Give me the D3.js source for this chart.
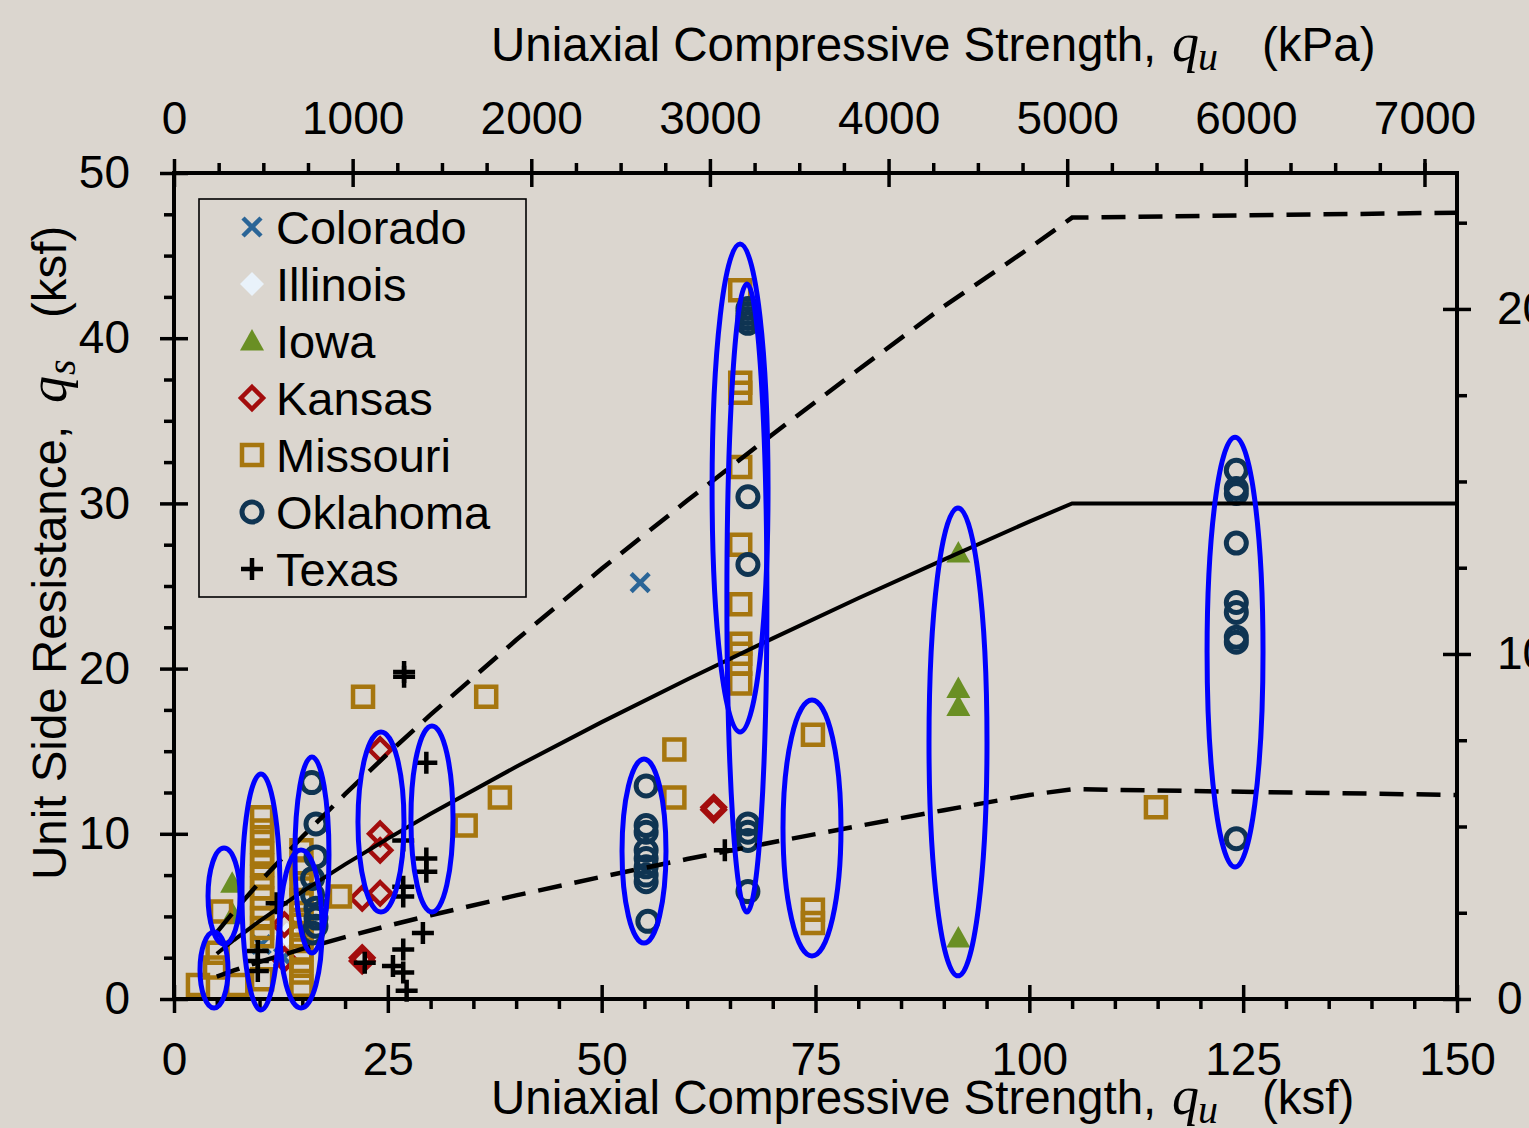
<!DOCTYPE html>
<html>
<head>
<meta charset="utf-8">
<script src="https://cdn.jsdelivr.net/npm/d3@7"></script>
<style>
  html, body { margin: 0; padding: 0; background: #dbd6cf; }
  svg { display: block; }
</style>
</head>
<body>
<svg id="chart" width="1529" height="1128"></svg>
<script>
// ---- Measured side resistance vs. uniaxial compressive strength (ksf) ----
const colorado = [[54.5, 25.2], [10.2, 3.3], [12.8, 2.5]];
const illinois = [[13.2, 3.9]];
const iowa = [[91.7, 27.0], [91.7, 18.8], [91.7, 17.7], [91.7, 3.7], [6.8, 7.0], [6.9, 5.1]];
const kansas = [[24.1, 15.1], [24.1, 10.0], [24.1, 9.0], [24.1, 6.4], [22.0, 6.1], [22.0, 2.3], [22.0, 2.5],
                [63.1, 11.45], [63.1, 11.6], [12.9, 4.5], [12.9, 2.4]];
const missouri = [
  [66.2, 42.9], [66.2, 37.3], [66.2, 36.7], [66.2, 32.2], [66.2, 27.5], [66.2, 23.9],
  [66.2, 21.5], [66.2, 20.9], [66.2, 20.3], [66.2, 19.1],
  [22.1, 18.3], [36.5, 18.3], [58.5, 15.1], [58.5, 12.2], [38.1, 12.2], [34.1, 10.5],
  [74.7, 16.0], [74.7, 5.4], [74.7, 4.6], [114.8, 11.6], [19.4, 6.2],
  [10.3, 11.0], [10.3, 10.2], [10.3, 9.5], [10.3, 8.8], [10.3, 8.1], [10.3, 7.4], [10.3, 6.7],
  [10.3, 6.1], [10.3, 5.5], [10.3, 4.9], [10.3, 4.3], [10.3, 3.8], [10.3, 1.2],
  [14.9, 9.0], [14.9, 7.9], [14.9, 7.0], [14.9, 6.0], [14.9, 5.2], [14.9, 4.5], [14.9, 3.8],
  [14.9, 3.0], [14.9, 2.3], [14.9, 1.6], [14.9, 0.8],
  [2.8, 0.85], [4.8, 1.9], [5.1, 2.8], [7.4, 0.85], [5.5, 5.3]
];
const oklahoma = [
  [67.1, 40.9], [67.1, 41.2], [67.1, 41.5], [67.1, 41.8], [67.1, 30.4], [67.1, 26.3],
  [67.1, 10.6], [67.1, 10.1], [67.1, 9.6], [67.1, 6.5],
  [55.2, 12.9], [55.2, 10.5], [55.2, 10.1], [55.2, 9.0], [55.2, 8.5], [55.2, 8.0], [55.2, 7.5],
  [55.2, 7.1], [55.4, 4.7],
  [124.2, 32.0], [124.2, 30.9], [124.2, 30.6], [124.2, 27.6], [124.2, 24.0], [124.2, 23.4],
  [124.2, 21.9], [124.2, 21.6], [124.2, 9.7],
  [16.1, 13.1], [16.6, 10.6], [16.6, 8.6], [16.2, 7.3], [16.2, 6.3], [16.6, 5.5], [16.6, 4.9],
  [16.6, 4.4], [16.2, 4.0]
];
const texas = [
  [26.9, 19.5], [26.9, 19.8], [29.5, 14.3], [29.5, 8.5], [29.5, 7.7], [26.8, 9.6], [26.8, 6.8],
  [26.8, 6.2], [29.1, 4.0], [26.8, 3.0], [25.6, 2.0], [26.8, 1.6], [27.2, 0.5], [22.3, 2.2],
  [12.0, 5.8], [9.8, 2.9], [9.8, 2.3], [9.8, 1.7], [64.4, 9.0]
];

// ---- Design trend lines (ksf) ----
const trendX     = [5, 7, 10, 15, 20, 25, 30, 40, 50, 60, 70, 80, 90, 100, 105, 150];
const trendUpper = [4.03, 5.30, 7.07, 9.82, 12.40, 14.85, 17.21, 21.73, 26.04, 30.17, 34.19, 38.09, 41.92, 45.45, 47.3, 47.6];
const trendMean  = [2.74, 3.57, 4.72, 6.50, 8.15, 9.71, 11.21, 14.06, 16.76, 19.34, 21.83, 24.26, 26.60, 28.90, 30.0, 30.0];
const trendLower = [1.35, 1.73, 2.25, 3.03, 3.75, 4.43, 5.07, 6.27, 7.40, 8.47, 9.49, 10.47, 11.43, 12.35, 12.7, 12.35];

// ---- Highlighted site groups: centre (ksf) and half-widths (ksf) ----
const groupCx = [5.85, 4.68, 10.17, 14.85, 16.13, 24.20, 30.16, 54.95, 66.18, 66.98, 74.59, 91.66, 124.05];
const groupCy = [6.23, 1.76, 6.48, 4.24, 8.72, 10.71, 10.90, 8.96, 30.93, 24.27, 10.35, 15.56, 21.00];
const groupRx = [1.87, 1.64, 2.22, 2.46, 1.99, 2.69, 2.46, 2.57, 3.27, 2.34, 3.39, 3.39, 3.27];
const groupRy = [2.91, 2.30, 7.14, 4.78, 5.93, 5.45, 5.63, 5.57, 14.77, 19.01, 7.75, 14.16, 13.01];

// ---- Axis ticks ----
const bottomTicks = [0, 25, 50, 75, 100, 125, 150];
const bottomMinor = [5, 10, 15, 20, 30, 35, 40, 45, 55, 60, 65, 70, 80, 85, 90, 95, 105, 110, 115, 120, 130, 135, 140, 145];
const leftTicks = [0, 10, 20, 30, 40, 50];
const leftMinor = [2.5, 5, 7.5, 12.5, 15, 17.5, 22.5, 25, 27.5, 32.5, 35, 37.5, 42.5, 45, 47.5];
const topTicks = [0, 1000, 2000, 3000, 4000, 5000, 6000, 7000];
const topMinor = [250, 500, 750, 1250, 1500, 1750, 2250, 2500, 2750, 3250, 3500, 3750, 4250, 4500, 4750,
                  5250, 5500, 5750, 6250, 6500, 6750, 7000];
const rightTicks = [0, 1000, 2000];
const rightMinor = [250, 500, 750, 1250, 1500, 1750, 2250];

const legendNames = ["Colorado", "Illinois", "Iowa", "Kansas", "Missouri", "Oklahoma", "Texas"];

const KPA_PER_KSF = 47.880259;
const FONT = "'Liberation Sans', Arial, sans-serif";
const MATH = "'Liberation Serif', 'Times New Roman', serif";

const svg = d3.select("#chart");
svg.append("rect").attr("width", 1529).attr("height", 1128).attr("fill", "#dbd6cf");

const x = d3.scaleLinear().domain([0, 150]).range([174, 1457]);
const y = d3.scaleLinear().domain([0, 50]).range([999, 173]);
const xk = d3.scaleLinear().domain([0, 150 * KPA_PER_KSF]).range([174, 1457]);
const yk = d3.scaleLinear().domain([0, 50 * KPA_PER_KSF]).range([999, 173]);

// ---- marker styles per state ----
const styles = {
  Colorado: { path: "M-9,-9L9,9M-9,9L9,-9", fill: "none", stroke: "#2a6597", sw: 4.5 },
  Illinois: { path: "M0,-12L12,0L0,12L-12,0Z", fill: "#e9f2fa", stroke: "none", sw: 0 },
  Iowa:     { path: "M0,-12L12,9.5L-12,9.5Z", fill: "#6a8f24", stroke: "none", sw: 0 },
  Kansas:   { path: "M0,-11L11,0L0,11L-11,0Z", fill: "none", stroke: "#a30d0d", sw: 4.5 },
  Missouri: { path: "M-10,-10H10V10H-10Z", fill: "none", stroke: "#a6760f", sw: 4.5 },
  Oklahoma: { path: "M10,0A10,10 0 1,1 -10,0A10,10 0 1,1 10,0Z", fill: "none", stroke: "#0f3452", sw: 5 },
  Texas:    { path: "M-11,0H11M0,-11V11", fill: "none", stroke: "#000000", sw: 4.5 }
};
const seriesData = { Colorado: colorado, Illinois: illinois, Iowa: iowa, Kansas: kansas,
                     Missouri: missouri, Oklahoma: oklahoma, Texas: texas };

function drawMarks(g, name, pts) {
  const s = styles[name];
  g.selectAll(null).data(pts).enter().append("path")
    .attr("transform", d => `translate(${x(d[0])},${y(d[1])})`)
    .attr("d", s.path)
    .attr("fill", s.fill)
    .attr("stroke", s.stroke)
    .attr("stroke-width", s.sw)
    .attr("stroke-linejoin", "miter");
}

const marks = svg.append("g");
legendNames.forEach(n => drawMarks(marks.append("g"), n, seriesData[n]));

// ---- trend lines ----
const lineGen = d3.line().x(d => x(d[0])).y(d => y(d[1]));
const lines = svg.append("g").attr("fill", "none").attr("stroke", "#000");
lines.append("path").datum(d3.zip(trendX, trendUpper)).attr("d", lineGen)
  .attr("stroke-width", 4.5).attr("stroke-dasharray", "24,13");
lines.append("path").datum(d3.zip(trendX, trendMean)).attr("d", lineGen)
  .attr("stroke-width", 4);
lines.append("path").datum(d3.zip(trendX, trendLower)).attr("d", lineGen)
  .attr("stroke-width", 4.5).attr("stroke-dasharray", "24,13");

// ---- axes ----
function tidy(g) {
  g.select(".domain").remove();
  g.selectAll("line").attr("stroke", "#000").attr("stroke-width", 3.5);
  g.selectAll("text").attr("font-size", 46).attr("font-family", FONT).attr("fill", "#000");
}
const axes = svg.append("g");
// bottom (ksf)
axes.append("g").attr("transform", "translate(0,999)")
  .call(d3.axisBottom(x).tickValues(bottomTicks).tickSize(14).tickPadding(29).tickFormat(d3.format("d"))).call(tidy);
axes.append("g").attr("transform", "translate(0,999)")
  .call(d3.axisBottom(x).tickValues(bottomTicks).tickSize(-14).tickFormat("")).call(tidy);
axes.append("g").attr("transform", "translate(0,999)")
  .call(d3.axisBottom(x).tickValues(bottomMinor).tickSize(10).tickFormat("")).call(tidy);
// left (ksf)
axes.append("g").attr("transform", "translate(174,0)")
  .call(d3.axisLeft(y).tickValues(leftTicks).tickSize(14).tickPadding(30).tickFormat(d3.format("d"))).call(tidy);
axes.append("g").attr("transform", "translate(174,0)")
  .call(d3.axisLeft(y).tickValues(leftTicks).tickSize(-14).tickFormat("")).call(tidy);
axes.append("g").attr("transform", "translate(174,0)")
  .call(d3.axisLeft(y).tickValues(leftMinor).tickSize(10).tickFormat("")).call(tidy);
// top (kPa)
axes.append("g").attr("transform", "translate(0,173)")
  .call(d3.axisTop(xk).tickValues(topTicks).tickSize(14).tickPadding(25).tickFormat(d3.format("d"))).call(tidy);
axes.append("g").attr("transform", "translate(0,173)")
  .call(d3.axisTop(xk).tickValues(topTicks).tickSize(-14).tickFormat("")).call(tidy);
axes.append("g").attr("transform", "translate(0,173)")
  .call(d3.axisTop(xk).tickValues(topMinor).tickSize(10).tickFormat("")).call(tidy);
// right (kPa)
axes.append("g").attr("transform", "translate(1457,0)")
  .call(d3.axisRight(yk).tickValues(rightTicks).tickSize(14).tickPadding(26).tickFormat(d3.format("d"))).call(tidy);
axes.append("g").attr("transform", "translate(1457,0)")
  .call(d3.axisRight(yk).tickValues(rightTicks).tickSize(-14).tickFormat("")).call(tidy);
axes.append("g").attr("transform", "translate(1457,0)")
  .call(d3.axisRight(yk).tickValues(rightMinor).tickSize(10).tickFormat("")).call(tidy);

// plot frame
svg.append("rect")
  .attr("x", x(0)).attr("y", y(50))
  .attr("width", x(150) - x(0)).attr("height", y(0) - y(50))
  .attr("fill", "none").attr("stroke", "#000").attr("stroke-width", 4);

// ---- axis titles ----
function axisTitle(g, qx, subx, unitx, sub, unit) {
  g.append("text").attr("x", 0).attr("y", 0).text("Uniaxial Compressive Strength,");
  g.append("text").attr("x", qx).attr("y", 0).attr("font-family", MATH).attr("font-style", "italic")
    .attr("font-size", 54).text("q");
  g.append("text").attr("x", subx).attr("y", 9).attr("font-family", MATH).attr("font-style", "italic")
    .attr("font-size", 40).text(sub);
  g.append("text").attr("x", unitx).attr("y", 0).text(unit);
}
const tTop = svg.append("g").attr("transform", "translate(491,61)")
  .attr("font-family", FONT).attr("font-size", 47.5).attr("fill", "#000");
axisTitle(tTop, 681, 707, 771, "u", "(kPa)");
const tBot = svg.append("g").attr("transform", "translate(491,1114)")
  .attr("font-family", FONT).attr("font-size", 47.5).attr("fill", "#000");
axisTitle(tBot, 681, 707, 771, "u", "(ksf)");

const tLeft = svg.append("g").attr("transform", "translate(66,880) rotate(-90)")
  .attr("font-family", FONT).attr("font-size", 47.5).attr("fill", "#000");
tLeft.append("text").attr("x", 0).attr("y", 0).text("Unit Side Resistance,");
tLeft.append("text").attr("x", 477).attr("y", 0).attr("font-family", MATH).attr("font-style", "italic")
  .attr("font-size", 54).text("q");
tLeft.append("text").attr("x", 505).attr("y", 9).attr("font-family", MATH).attr("font-style", "italic")
  .attr("font-size", 40).text("s");
tLeft.append("text").attr("x", 562).attr("y", 0).text("(ksf)");

// ---- legend ----
const legend = svg.append("g");
legend.append("rect").attr("x", 199).attr("y", 199).attr("width", 327).attr("height", 398)
  .attr("fill", "none").attr("stroke", "#000").attr("stroke-width", 1.6);
legendNames.forEach((n, i) => {
  const cy = 227 + i * 57;
  const s = styles[n];
  legend.append("path").attr("transform", `translate(252,${cy})`).attr("d", s.path)
    .attr("fill", s.fill).attr("stroke", s.stroke).attr("stroke-width", s.sw);
  legend.append("text").attr("x", 276).attr("y", cy).attr("dy", "0.36em")
    .attr("font-family", FONT).attr("font-size", 47).attr("fill", "#000").text(n);
});

// ---- highlighted groups ----
svg.append("g").selectAll("ellipse").data(d3.range(groupCx.length)).enter().append("ellipse")
  .attr("cx", i => x(groupCx[i])).attr("cy", i => y(groupCy[i]))
  .attr("rx", i => x(groupRx[i]) - x(0)).attr("ry", i => y(0) - y(groupRy[i]))
  .attr("fill", "none").attr("stroke", "#0000ff").attr("stroke-width", 5);
</script>
</body>
</html>
